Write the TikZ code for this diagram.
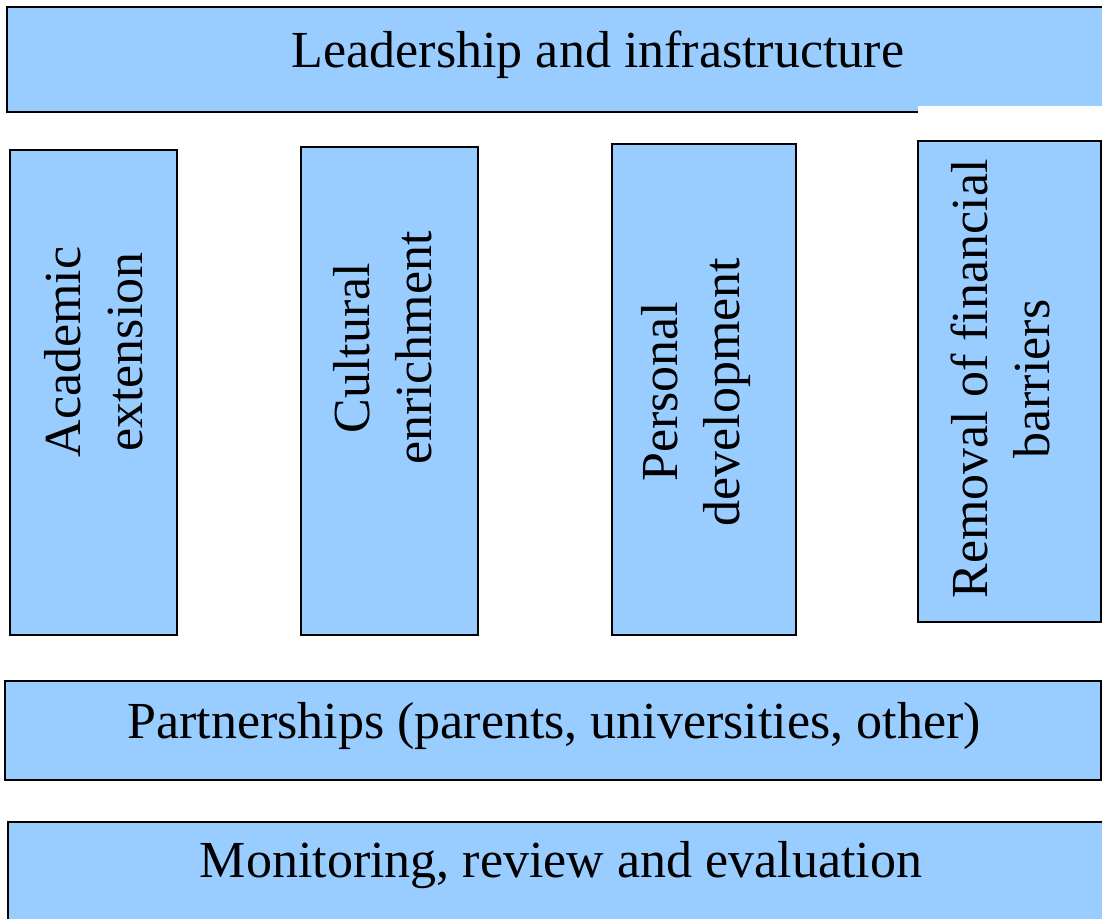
\documentclass[tikz,border=0pt]{standalone}
\usepackage{fontspec}
\setmainfont{Liberation Serif}
\newfontfamily\timesfont{Liberation Serif}
\definecolor{panelblue}{HTML}{99CCFF}
\tikzstyle{panel}=[fill=panelblue,draw=black,line width=2.4pt]
\tikzstyle{bandtext}=[inner sep=0pt,anchor=base,font=\timesfont\fontsize{52}{62}\selectfont]
\tikzstyle{pillartext}=[inner sep=0pt,rotate=90,align=center,font=\timesfont\fontsize{52}{62}\selectfont]
\newcommand{\pillarbox}[4]{% Syntax: {left}{top}{right}{bottom}
  \draw[panel] (#1,#2) rectangle (#3,#4);
}
\begin{document}
\begin{tikzpicture}[x=1pt,y=-1pt]
	\useasboundingbox (0,0) rectangle (1102,918);
	\clip (0,0) rectangle (1102,918);
	% bands
	\draw[panel] (7,7) rectangle (1130,112);
	\fill[white] (917.5,106) rectangle (1130,118);
	\draw[panel] (5,681) rectangle (1101,780);
	\draw[panel] (8,822) rectangle (1130,940);
	\node[bandtext] (lead) at (598,67) {Leadership and infrastructure};
	\node[bandtext] (part) at (554,738) {Partnerships (parents, universities, other)};
	\node[bandtext] (moni) at (561,877) {Monitoring, review and evaluation};
	% pillars
	\pillarbox{10}{150}{177}{635}
	\pillarbox{301}{147}{478}{635}
	\pillarbox{612}{144}{796}{635}
	\pillarbox{918}{141}{1101}{622}
	\node[pillartext] (acad) at (94,352) {Academic\\extension};
	\node[pillartext] (cult) at (383,348) {Cultural\\enrichment};
	\node[pillartext] (pers) at (696,392) {Personal\\development};
	\node[pillartext] (remo) at (1000,379) {Removal of financial\\barriers};
\end{tikzpicture}
\end{document}
